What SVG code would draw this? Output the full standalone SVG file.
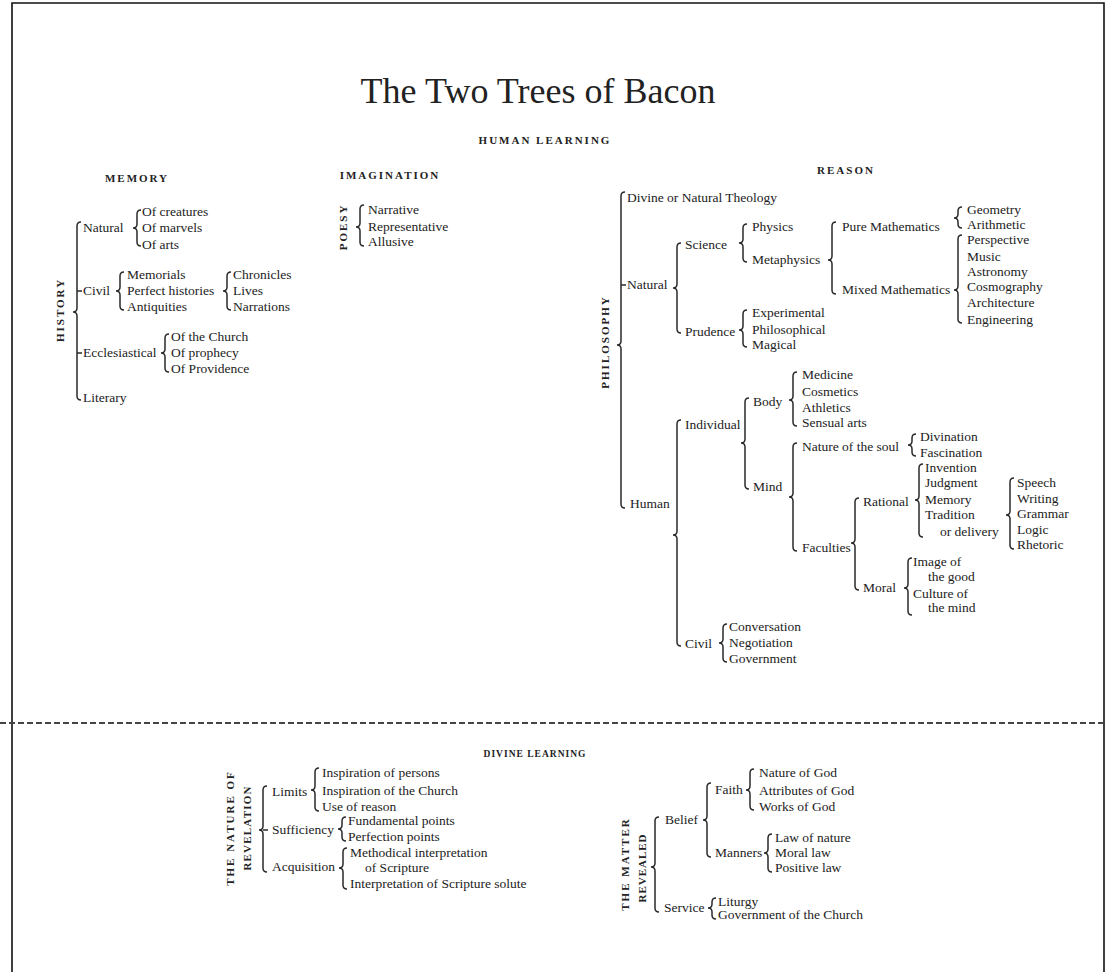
<svg xmlns="http://www.w3.org/2000/svg" width="1106" height="972" viewBox="0 0 1106 972">
<style>
.t{font-family:"Liberation Serif",serif;font-size:13.5px;fill:#222}
.h{font-family:"Liberation Serif",serif;font-size:11px;font-weight:bold;letter-spacing:2px;fill:#222;text-anchor:middle}
.v{font-family:"Liberation Serif",serif;font-size:11px;font-weight:bold;letter-spacing:2px;fill:#222;text-anchor:middle}
.b{fill:none;stroke:#2a2a2a;stroke-width:1.5}
</style>
<rect width="1106" height="972" fill="#fff"/>
<path d="M12,972 V3 H1104 V972" fill="none" stroke="#111" stroke-width="1.6"/>
<line x1="0" y1="723" x2="1106" y2="723" stroke="#444" stroke-width="2.2" stroke-dasharray="6,3"/>
<g id="title"><text x="538" y="103" font-family="Liberation Serif, serif" font-size="36" fill="#222" text-anchor="middle">The Two Trees of Bacon</text></g>
<g id="n-human-learning"><text class="h" x="545" y="144">HUMAN LEARNING</text></g>
<g id="n-memory"><text class="h" x="137" y="182">MEMORY</text></g>
<g id="n-imagination"><text class="h" x="390" y="179">IMAGINATION</text></g>
<g id="n-reason"><text class="h" x="846" y="174">REASON</text></g>
<g id="n-divine-learning"><text class="h" x="535" y="757" style="font-size:9.5px;letter-spacing:1px">DIVINE LEARNING</text></g>

<g id="connectors" class="b">
<path d="M81,222 Q77,222 77,226 V308 Q77,312 73,312 Q77,312 77,316 V396 Q77,400 81,400 M77,291 h5 M77,353 h5"/>
<path d="M141,210 Q137,210 137,214 V224 Q137,228 133,228 Q137,228 137,232 V242 Q137,246 141,246"/>
<path d="M124,272 Q120,272 120,276 V287 Q120,291 116,291 Q120,291 120,295 V306 Q120,310 124,310"/>
<path d="M231,272 Q227,272 227,276 V287 Q227,291 223,291 Q227,291 227,295 V306 Q227,310 231,310"/>
<path d="M169,334 Q165,334 165,338 V349 Q165,353 161,353 Q165,353 165,357 V368 Q165,372 169,372"/>
<path d="M364,205 Q360,205 360,209 V223 Q360,227 356,227 Q360,227 360,231 V242 Q360,246 364,246"/>
<path d="M625,192 Q621,192 621,196 V341 Q621,345 617,345 Q621,345 621,349 V504 Q621,508 625,508 M621,285 h5"/>
<path d="M681,243 Q677,243 677,247 V284 Q677,288 673,288 Q677,288 677,292 V329 Q677,333 681,333"/>
<path d="M747,224 Q743,224 743,228 V239 Q743,243 739,243 Q743,243 743,247 V258 Q743,262 747,262"/>
<path d="M836,222 Q832,222 832,226 V256 Q832,260 828,260 Q832,260 832,264 V290 Q832,294 836,294"/>
<path d="M962,207 Q958,207 958,211 V214 Q958,218 954,218 Q958,218 958,222 V224 Q958,228 962,228"/>
<path d="M962,235 Q958,235 958,239 V286 Q958,290 954,290 Q958,290 958,294 V319 Q958,323 962,323"/>
<path d="M747,310 Q743,310 743,314 V326 Q743,330 739,330 Q743,330 743,334 V343 Q743,347 747,347"/>
<path d="M681,420 Q677,420 677,424 V531 Q677,535 673,535 Q677,535 677,539 V642 Q677,646 681,646"/>
<path d="M749,398 Q745,398 745,402 V439 Q745,443 741,443 Q745,443 745,447 V485 Q745,489 749,489"/>
<path d="M797,372 Q793,372 793,376 V396 Q793,400 789,400 Q793,400 793,404 V422 Q793,426 797,426"/>
<path d="M797,443 Q793,443 793,447 V493 Q793,497 789,497 Q793,497 793,501 V547 Q793,551 797,551"/>
<path d="M916,434 Q912,434 912,438 V441 Q912,445 908,445 Q912,445 912,449 V452 Q912,456 916,456"/>
<path d="M859,498 Q855,498 855,502 V539 Q855,543 851,543 Q855,543 855,547 V586 Q855,590 859,590"/>
<path d="M923,464 Q919,464 919,468 V496 Q919,500 915,500 Q919,500 919,504 V533 Q919,537 923,537"/>
<path d="M1014,478 Q1010,478 1010,482 V511 Q1010,515 1006,515 Q1010,515 1010,519 V545 Q1010,549 1014,549"/>
<path d="M912,558 Q908,558 908,562 V584 Q908,588 904,588 Q908,588 908,592 V611 Q908,615 912,615"/>
<path d="M727,624 Q723,624 723,628 V639 Q723,643 719,643 Q723,643 723,647 V658 Q723,662 727,662"/>
<path d="M267,786 Q263,786 263,790 V826 Q263,830 259,830 Q263,830 263,834 V868 Q263,872 267,872 M263,830 h5"/>
<path d="M319,768 Q315,768 315,772 V786 Q315,790 311,790 Q315,790 315,794 V807 Q315,811 319,811"/>
<path d="M346,817 Q342,817 342,821 V825 Q342,829 338,829 Q342,829 342,833 V837 Q342,841 346,841"/>
<path d="M347,848 Q343,848 343,852 V864 Q343,868 339,868 Q343,868 343,872 V885 Q343,889 347,889"/>
<path d="M659,817 Q655,817 655,821 V863 Q655,867 651,867 Q655,867 655,871 V908 Q655,912 659,912"/>
<path d="M711,783 Q707,783 707,787 V816 Q707,820 703,820 Q707,820 707,824 V853 Q707,857 711,857"/>
<path d="M754,769 Q750,769 750,773 V786 Q750,790 746,790 Q750,790 750,794 V806 Q750,810 754,810"/>
<path d="M772,834 Q768,834 768,838 V849 Q768,853 764,853 Q768,853 768,857 V868 Q768,872 772,872"/>
<path d="M716,898 Q712,898 712,902 V904 Q712,908 708,908 Q712,908 712,912 V915 Q712,919 716,919"/>
</g>

<g id="n-history"><text class="v" transform="translate(64,310) rotate(-90)">HISTORY</text></g>
<g id="n-natural-hist"><text class="t" x="83" y="232">Natural</text></g>
<g id="n-of-creatures"><text class="t" x="142" y="216">Of creatures</text></g>
<g id="n-of-marvels"><text class="t" x="142" y="232">Of marvels</text></g>
<g id="n-of-arts"><text class="t" x="142" y="249">Of arts</text></g>
<g id="n-civil-hist"><text class="t" x="83" y="295">Civil</text></g>
<g id="n-memorials"><text class="t" x="127" y="279">Memorials</text></g>
<g id="n-perfect-histories"><text class="t" x="127" y="295">Perfect histories</text></g>
<g id="n-antiquities"><text class="t" x="127" y="311">Antiquities</text></g>
<g id="n-chronicles"><text class="t" x="233" y="279">Chronicles</text></g>
<g id="n-lives"><text class="t" x="233" y="295">Lives</text></g>
<g id="n-narrations"><text class="t" x="233" y="311">Narrations</text></g>
<g id="n-ecclesiastical"><text class="t" x="83" y="357">Ecclesiastical</text></g>
<g id="n-of-the-church"><text class="t" x="171" y="341">Of the Church</text></g>
<g id="n-of-prophecy"><text class="t" x="171" y="357">Of prophecy</text></g>
<g id="n-of-providence"><text class="t" x="171" y="373">Of Providence</text></g>
<g id="n-literary"><text class="t" x="83" y="402">Literary</text></g>

<g id="n-poesy"><text class="v" transform="translate(347,227) rotate(-90)">POESY</text></g>
<g id="n-narrative"><text class="t" x="368" y="214">Narrative</text></g>
<g id="n-representative"><text class="t" x="368" y="231">Representative</text></g>
<g id="n-allusive"><text class="t" x="368" y="246">Allusive</text></g>

<g id="n-philosophy"><text class="v" transform="translate(609,342) rotate(-90)">PHILOSOPHY</text></g>
<g id="n-divine-theology"><text class="t" x="627" y="202">Divine or Natural Theology</text></g>
<g id="n-natural-phil"><text class="t" x="627" y="289">Natural</text></g>
<g id="n-science"><text class="t" x="685" y="249">Science</text></g>
<g id="n-physics"><text class="t" x="752" y="231">Physics</text></g>
<g id="n-metaphysics"><text class="t" x="752" y="264">Metaphysics</text></g>
<g id="n-pure-math"><text class="t" x="842" y="231">Pure Mathematics</text></g>
<g id="n-mixed-math"><text class="t" x="842" y="294">Mixed Mathematics</text></g>
<g id="n-geometry"><text class="t" x="967" y="214">Geometry</text></g>
<g id="n-arithmetic"><text class="t" x="967" y="229">Arithmetic</text></g>
<g id="n-perspective"><text class="t" x="967" y="244">Perspective</text></g>
<g id="n-music"><text class="t" x="967" y="261">Music</text></g>
<g id="n-astronomy"><text class="t" x="967" y="276">Astronomy</text></g>
<g id="n-cosmography"><text class="t" x="967" y="291">Cosmography</text></g>
<g id="n-architecture"><text class="t" x="967" y="307">Architecture</text></g>
<g id="n-engineering"><text class="t" x="967" y="324">Engineering</text></g>
<g id="n-prudence"><text class="t" x="685" y="336">Prudence</text></g>
<g id="n-experimental"><text class="t" x="752" y="317">Experimental</text></g>
<g id="n-philosophical"><text class="t" x="752" y="334">Philosophical</text></g>
<g id="n-magical"><text class="t" x="752" y="349">Magical</text></g>

<g id="n-human"><text class="t" x="630" y="508">Human</text></g>
<g id="n-individual"><text class="t" x="685" y="429">Individual</text></g>
<g id="n-body"><text class="t" x="753" y="406">Body</text></g>
<g id="n-medicine"><text class="t" x="802" y="379">Medicine</text></g>
<g id="n-cosmetics"><text class="t" x="802" y="396">Cosmetics</text></g>
<g id="n-athletics"><text class="t" x="802" y="412">Athletics</text></g>
<g id="n-sensual-arts"><text class="t" x="802" y="427">Sensual arts</text></g>
<g id="n-mind"><text class="t" x="753" y="491">Mind</text></g>
<g id="n-nature-soul"><text class="t" x="802" y="451">Nature of the soul</text></g>
<g id="n-divination"><text class="t" x="920" y="441">Divination</text></g>
<g id="n-fascination"><text class="t" x="920" y="457">Fascination</text></g>
<g id="n-faculties"><text class="t" x="802" y="552">Faculties</text></g>
<g id="n-rational"><text class="t" x="863" y="506">Rational</text></g>
<g id="n-invention"><text class="t" x="925" y="472">Invention</text></g>
<g id="n-judgment"><text class="t" x="925" y="487">Judgment</text></g>
<g id="n-memory-fac"><text class="t" x="925" y="504">Memory</text></g>
<g id="n-tradition"><text class="t" x="925" y="519">Tradition</text><text class="t" x="940" y="536">or delivery</text></g>
<g id="n-speech"><text class="t" x="1017" y="487">Speech</text></g>
<g id="n-writing"><text class="t" x="1017" y="503">Writing</text></g>
<g id="n-grammar"><text class="t" x="1017" y="518">Grammar</text></g>
<g id="n-logic"><text class="t" x="1017" y="534">Logic</text></g>
<g id="n-rhetoric"><text class="t" x="1017" y="549">Rhetoric</text></g>
<g id="n-moral"><text class="t" x="863" y="592">Moral</text></g>
<g id="n-image-good"><text class="t" x="913" y="566">Image of</text><text class="t" x="928" y="581">the good</text></g>
<g id="n-culture-mind"><text class="t" x="913" y="598">Culture of</text><text class="t" x="928" y="612">the mind</text></g>
<g id="n-civil-human"><text class="t" x="685" y="648">Civil</text></g>
<g id="n-conversation"><text class="t" x="729" y="631">Conversation</text></g>
<g id="n-negotiation"><text class="t" x="729" y="647">Negotiation</text></g>
<g id="n-government"><text class="t" x="729" y="663">Government</text></g>

<g id="n-nature-revelation"><text class="v" transform="translate(234,828) rotate(-90)">THE NATURE OF</text><text class="v" style="letter-spacing:1.2px" transform="translate(251,828) rotate(-90)">REVELATION</text></g>
<g id="n-limits"><text class="t" x="272" y="796">Limits</text></g>
<g id="n-inspiration-persons"><text class="t" x="322" y="777">Inspiration of persons</text></g>
<g id="n-inspiration-church"><text class="t" x="322" y="795">Inspiration of the Church</text></g>
<g id="n-use-reason"><text class="t" x="322" y="811">Use of reason</text></g>
<g id="n-sufficiency"><text class="t" x="272" y="834">Sufficiency</text></g>
<g id="n-fundamental"><text class="t" x="348" y="825">Fundamental points</text></g>
<g id="n-perfection"><text class="t" x="348" y="841">Perfection points</text></g>
<g id="n-acquisition"><text class="t" x="272" y="871">Acquisition</text></g>
<g id="n-methodical"><text class="t" x="350" y="857">Methodical interpretation</text><text class="t" x="365" y="872">of Scripture</text></g>
<g id="n-solute"><text class="t" x="350" y="888">Interpretation of Scripture solute</text></g>

<g id="n-matter-revealed"><text class="v" transform="translate(629,864) rotate(-90)">THE MATTER</text><text class="v" style="letter-spacing:1px" transform="translate(646,868) rotate(-90)">REVEALED</text></g>
<g id="n-belief"><text class="t" x="665" y="824">Belief</text></g>
<g id="n-faith"><text class="t" x="715" y="794">Faith</text></g>
<g id="n-nature-god"><text class="t" x="759" y="777">Nature of God</text></g>
<g id="n-attributes-god"><text class="t" x="759" y="795">Attributes of God</text></g>
<g id="n-works-god"><text class="t" x="759" y="811">Works of God</text></g>
<g id="n-manners"><text class="t" x="715" y="857">Manners</text></g>
<g id="n-law-nature"><text class="t" x="775" y="842">Law of nature</text></g>
<g id="n-moral-law"><text class="t" x="775" y="857">Moral law</text></g>
<g id="n-positive-law"><text class="t" x="775" y="872">Positive law</text></g>
<g id="n-service"><text class="t" x="664" y="912">Service</text></g>
<g id="n-liturgy"><text class="t" x="718" y="906">Liturgy</text></g>
<g id="n-gov-church"><text class="t" x="718" y="919">Government of the Church</text></g>
</svg>
